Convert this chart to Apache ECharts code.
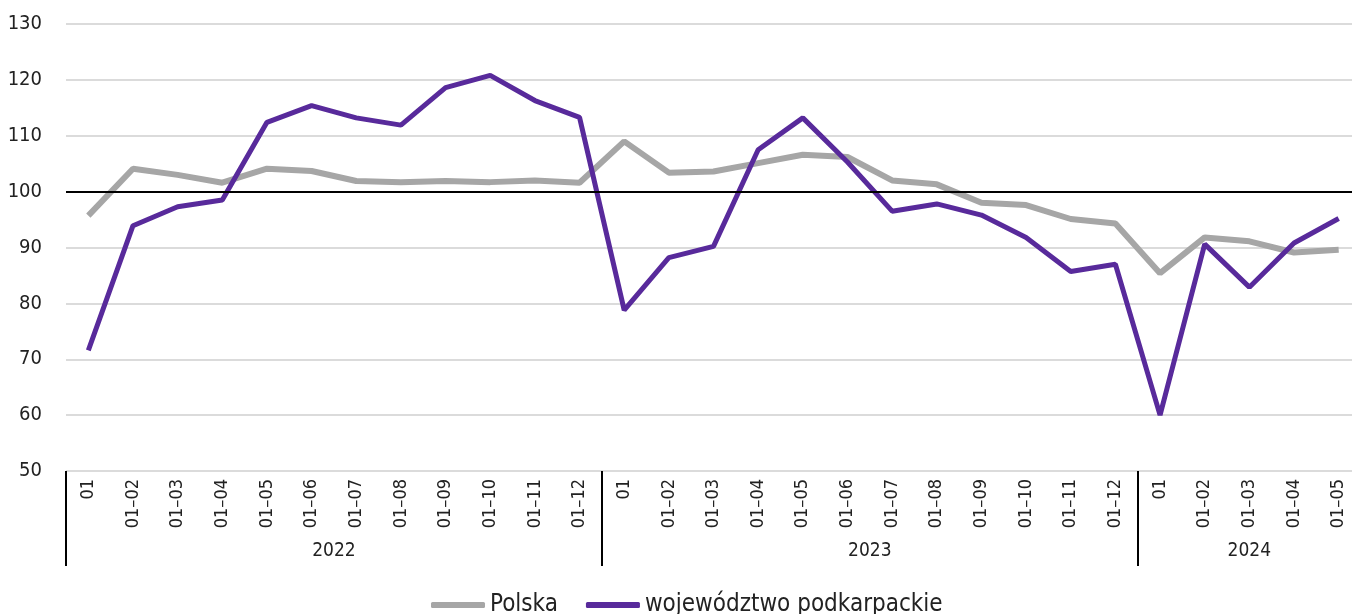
<!DOCTYPE html>
<html>
<head>
<meta charset="utf-8">
<script src="https://cdn.jsdelivr.net/npm/echarts@6/dist/echarts.min.js"></script>
<style>
  html, body { margin: 0; padding: 0; background: #fff; }
  #chart { width: 1352px; height: 614px; }
</style>
</head>
<body>
<div id="chart"></div>
<script>
// months within each year
const months = [
  '01', '01–02', '01–03', '01–04', '01–05', '01–06', '01–07', '01–08', '01–09', '01–10', '01–11', '01–12',
  '01', '01–02', '01–03', '01–04', '01–05', '01–06', '01–07', '01–08', '01–09', '01–10', '01–11', '01–12',
  '01', '01–02', '01–03', '01–04', '01–05'
]
const years = ['2022', '2023', '2024']
const yearCounts = [12, 12, 5]

const polska = [
  95.7, 104.1, 103.0, 101.6, 104.1, 103.7, 101.9, 101.7, 101.9, 101.7, 102.0, 101.6,
  109.0, 103.4, 103.6, 105.1, 106.6, 106.2, 102.0, 101.3, 98.0, 97.6, 95.1, 94.3,
  85.4, 91.8, 91.1, 89.1, 89.6
]
const podkarpackie = [
  71.6, 93.9, 97.3, 98.5, 112.4, 115.4, 113.2, 111.9, 118.6, 120.8, 116.3, 113.3,
  78.8, 88.2, 90.2, 107.5, 113.2, 105.3, 96.5, 97.8, 95.8, 91.8, 85.7, 87.0,
  60.0, 90.6, 82.9, 90.8, 95.2
]
const yTicks = { min: 50, max: 130, step: 10 }
const baseline = 100

// year boundaries and label centres, built from the counts
const yearBounds = [0]
const yearCenters = []
yearCounts.forEach((c, i) => {
  yearCenters.push(yearBounds[i] + c / 2)
  yearBounds.push(yearBounds[i] + c)
})

const font = "'Liberation Sans Narrow', 'DejaVu Sans Condensed', sans-serif"

const chart = echarts.init(document.getElementById('chart'))
chart.setOption({
  animation: false,
  textStyle: { fontFamily: font },
  // plot runs a bit past the right edge, like the cropped original
  grid: { left: 66, width: 1295, top: 24, bottom: 143, outerBoundsMode: 'none' },
  legend: {
    top: 588,
    left: 426,
    itemWidth: 54,
    itemHeight: 6,
    itemGap: 28,
    icon: 'roundRect',
    textStyle: { fontSize: 24, color: '#222', fontFamily: font },
    data: ['Polska', 'województwo podkarpackie']
  },
  xAxis: [
    {
      type: 'category',
      data: months,
      boundaryGap: true,
      axisLine: { show: false },
      axisTick: { show: false },
      axisLabel: { rotate: 90, fontSize: 18, color: '#222', margin: 8, interval: 0, fontFamily: font }
    },
    {
      type: 'value',
      min: 0,
      max: months.length,
      position: 'bottom',
      axisLine: { show: false },
      splitLine: { show: false },
      axisTick: {
        show: true,
        customValues: yearBounds.slice(0, -1),
        length: 95,
        lineStyle: { color: '#000', width: 2 }
      },
      axisLabel: {
        customValues: yearCenters,
        formatter: (v) => years[yearCenters.indexOf(v)] ?? '',
        fontSize: 19,
        color: '#222',
        margin: 71,
        fontFamily: font
      }
    }
  ],
  yAxis: {
    type: 'value',
    min: yTicks.min,
    max: yTicks.max,
    interval: yTicks.step,
    axisLine: { show: false },
    axisTick: { show: false },
    axisLabel: { fontSize: 20, color: '#222', margin: 24, fontFamily: font },
    splitLine: { lineStyle: { color: '#cfcfcf', width: 1.5 } }
  },
  series: [
    {
      name: 'Polska',
      type: 'line',
      data: polska,
      symbol: 'none',
      lineStyle: { color: '#a6a6a6', width: 6 },
      itemStyle: { color: '#a6a6a6' },
      markLine: {
        silent: true,
        symbol: 'none',
        label: { show: false },
        lineStyle: { color: '#000', width: 2, type: 'solid' },
        data: [{ yAxis: baseline }]
      },
      z: 2
    },
    {
      name: 'województwo podkarpackie',
      type: 'line',
      data: podkarpackie,
      symbol: 'none',
      lineStyle: { color: '#582a9b', width: 5 },
      itemStyle: { color: '#582a9b' },
      z: 3
    }
  ]
})
</script>
</body>
</html>
